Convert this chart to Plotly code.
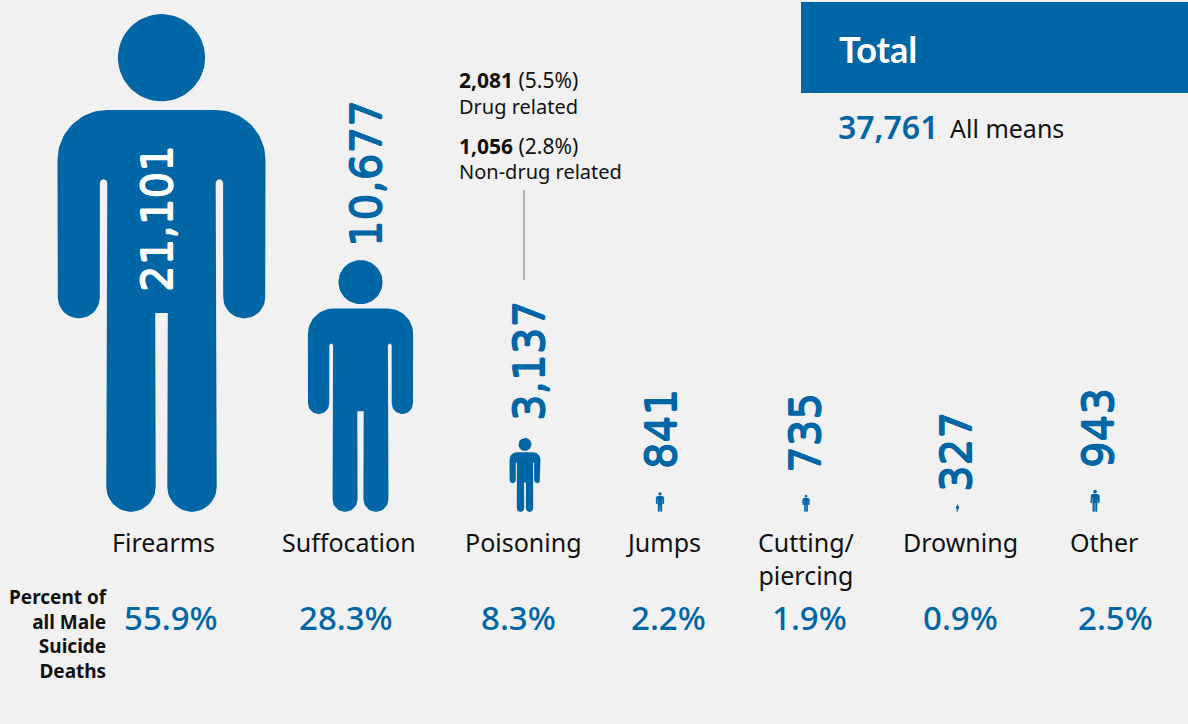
import numpy as np
import plotly.graph_objects as go

categories = ["Firearms", "Suffocation", "Poisoning", "Jumps", "Cutting/<br>piercing", "Drowning", "Other"]
deaths = [21101, 10677, 3137, 841, 735, 327, 943]
percents = ["55.9%", "28.3%", "8.3%", "2.2%", "1.9%", "0.9%", "2.5%"]

# layout constants (pixel-based axes)
W, H = 1188, 724
BASE = 512
PX_PER_DEATH = 498 / 21101
person_cx = [161.5, 360.5, 525, 660, 806, 957.5, 1095]
label_cx = [163.5, 349, 523, 663, 806, 960, 1104]
pct_cx = [170.5, 346, 518, 668, 810, 960, 1115]
BLUE = "#0066A6"
BG = "#F1F1F1"
FONT = "Noto Sans"
NUMFONT = "DejaVu Sans"


def arc(cx, cy, r, a0, a1, n=24):
    t = np.radians(np.linspace(a0, a1, n))
    return cx + r * np.cos(t), cy - r * np.sin(t)


def person_template():
    """Unit person outline: x relative to centre, y up from the feet, height 1."""
    c, ref = 161.5, 498.0
    parts = [
        arc(215.5 - c, 160, 50, 90, 0),
        arc(244.2 - c, 297.3, 21, 0, -180),
        arc(219.4 - c, 183, 3.7, 0, 180),
        arc(192 - c, 487, 24.7, 0, -180),
    ]
    x = np.concatenate([p[0] for p in parts] + [[6.3]])
    y = np.concatenate([p[1] for p in parts] + [[313]])
    bx = np.concatenate([x, -x[::-1], [x[0]]])
    by = np.concatenate([y, y[::-1], [y[0]]])
    hx, hy = arc(0, 57.7, 43.6, 0, 360, 72)
    return (np.concatenate([bx, [np.nan], hx]) / ref,
            (BASE - np.concatenate([by, [np.nan], hy])) / ref)


tx, ty = person_template()
fig = go.Figure()
for cx, v, name in zip(person_cx, deaths, categories):
    h = v * PX_PER_DEATH
    fig.add_trace(go.Scatter(x=cx + tx * h, y=ty * v, mode="lines", fill="toself",
                             fillcolor=BLUE, line=dict(width=0), hoverinfo="skip",
                             name=name, showlegend=False))

ann = []


def txt(x, y, s, size, color="#111111", anchor="left", font=FONT, weight=None, shadow=None, **kw):
    f = dict(size=size, color=color, family=font)
    if weight:
        f["weight"] = weight
    if shadow:
        f["shadow"] = shadow
    ann.append(dict(x=x / W, y=1 - y / H, xref="paper", yref="paper", text=s, showarrow=False,
                    xanchor=anchor, yanchor="middle", align=anchor, font=f, **kw))


# value labels, rotated, sitting above each person
val_cy = [219, 174, 361, 429, 433, 452, 428]
val_x = [158, 366, 530, 661, 805, 957, 1098]
for i, v in enumerate(deaths):
    col = "#FFFFFF" if i == 0 else BLUE
    thick = f"0.6px 0 0 {col}, -0.6px 0 0 {col}, 0 0.6px 0 {col}, 0 -0.6px 0 {col}"
    txt(val_x[i], val_cy[i], f"{v:,}", 42, col, "center", NUMFONT, shadow=thick, textangle=-90)

for x, c in zip(label_cx, categories):
    y = 558 if "<br>" in c else 542
    txt(x, y, c, 25, "#111111", "center")
for x, p in zip(pct_cx, percents):
    txt(x, 617, p, 33, BLUE, "center", weight=500)

txt(110, 634, "<b>Percent of<br>all Male<br>Suicide<br>Deaths</b>", 19, "#111111", "right")

txt(457, 80, "<b>2,081</b> (5.5%)", 21)
txt(457, 107, "Drug related", 20)
txt(457, 146, "<b>1,056</b> (2.8%)", 21)
txt(457, 172, "Non-drug related", 20)

txt(837, 49, "<b>Total</b>", 36, "#FFFFFF", font="Lato")
txt(836, 126, "37,761", 32, BLUE, weight=600)
txt(948, 128, "All means", 25)

fig.update_layout(
    width=W, height=H, margin=dict(l=0, r=0, t=0, b=0),
    paper_bgcolor=BG, plot_bgcolor=BG, showlegend=False,
    annotations=ann,
    xaxis=dict(range=[0, W], visible=False, fixedrange=True),
    yaxis=dict(range=[-(H - BASE) / PX_PER_DEATH, BASE / PX_PER_DEATH], visible=False, fixedrange=True),
    shapes=[
        dict(type="rect", xref="paper", yref="paper", x0=801 / W, x1=1, y0=1 - 93 / H, y1=1 - 2 / H,
             fillcolor=BLUE, line=dict(width=0), layer="below"),
        dict(type="line", xref="paper", yref="paper", x0=524 / W, x1=524 / W, y0=1 - 190 / H, y1=1 - 280 / H,
             line=dict(color="#777777", width=1)),
    ],
)
fig.write_html("out.html", config=dict(displayModeBar=False),
               post_script="document.body.style.margin='0';document.documentElement.style.overflow='hidden';")
